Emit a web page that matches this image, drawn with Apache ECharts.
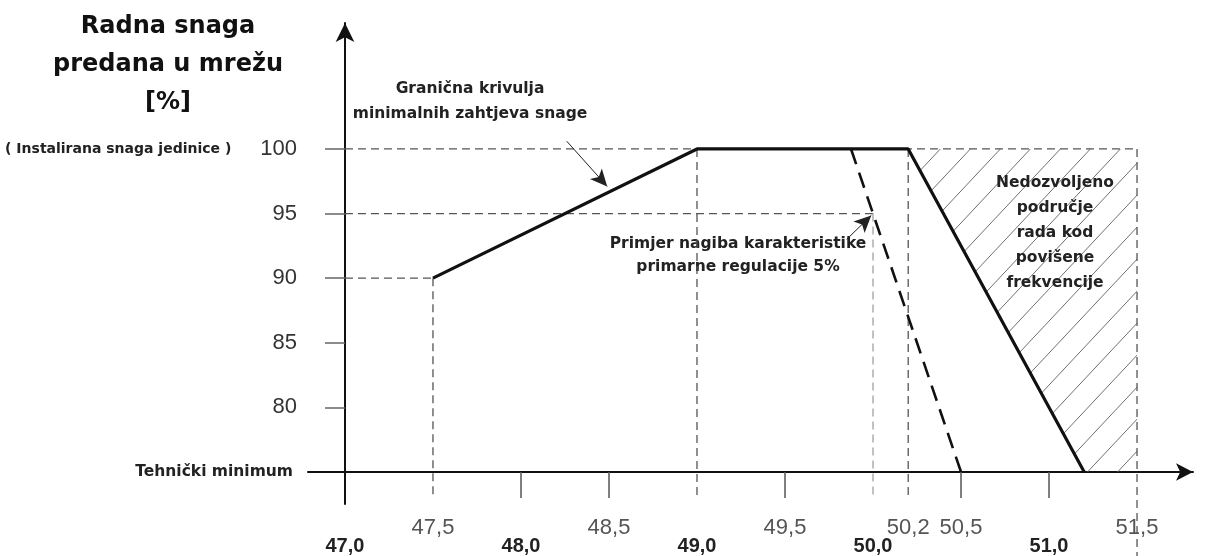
<!DOCTYPE html>
<html><head><meta charset="utf-8">
<script src="https://cdn.jsdelivr.net/npm/echarts@6/dist/echarts.min.js"></script>
<style>html,body{margin:0;padding:0;background:#fff}#c{width:1209px;height:556px}</style>
</head><body><div id="c"></div>
<script>
// ---------- data ----------
const yTickValues = [75, 80, 85, 90, 95, 100];
const yTickLabels = ['Tehnički minimum', '80', '85', '90', '95', '100'];
const yUnitNote = '( Instalirana snaga jedinice )';
const xMajorValues = [47, 48, 49, 50, 51];
const xMajorLabels = ['47,0', '48,0', '49,0', '50,0', '51,0'];
const xMinorValues = [47.5, 48.5, 49.5, 50.2, 50.5, 51.5];
const xMinorLabels = ['47,5', '48,5', '49,5', '50,2', '50,5', '51,5'];
const xTickValues = [48, 48.5, 49.5, 50.5, 51];
// minimum-requirement boundary curve
const minCurveX = [47.5, 49.0, 50.2, 51.2];
const minCurveY = [90, 100, 100, 75];
// example 5% droop characteristic
const droopX = [49.875, 50.0, 50.5];
const droopY = [100, 95, 75];
// forbidden region (over-frequency)
const forbiddenX = [50.2, 51.5, 51.5, 51.2];
const forbiddenY = [100, 100, 75, 75];
// dashed guide lines: horizontal [xFrom, xTo, y], vertical [x, yFrom, yTo]
const guideH = [[47, 51.5, 100], [47, 50.0, 95], [47, 47.5, 90]];
const guideV = [[47.5, 90, 73.1], [49.0, 100, 73.1], [50.0, 95, 73.1], [50.2, 100, 73.1], [51.5, 100, 68.5]];
// annotation arrows [[tailX, tailY], [tipX, tipY]]
const arrowMin = [[48.26, 100.6], [48.49, 97.1]];
const arrowDroop = [[49.85, 93.0], [49.99, 94.85]];
// texts
const titleText = 'Radna snaga\npredana u mrežu\n[%]';
const noteMin = 'Granična krivulja\nminimalnih zahtjeva snage';
const noteDroop = 'Primjer nagiba karakteristike\nprimarne regulacije 5%';
const noteForbidden = 'Nedozvoljeno\npodručje\nrada kod\npovišene\nfrekvencije';

// ---------- chart ----------
const BOLD = '"DejaVu Sans", sans-serif';
const REG = '"Liberation Sans", Arial, sans-serif';

const pc = document.createElement('canvas');
pc.width = 30; pc.height = 32;
const g = pc.getContext('2d');
g.strokeStyle = '#707070'; g.lineWidth = 1;
g.beginPath();
g.moveTo(0, 32); g.lineTo(30, 0);
g.moveTo(-5, 5.33); g.lineTo(5, -5.33);
g.moveTo(25, 37.33); g.lineTo(35, 26.67);
g.stroke();
const hatch = { image: pc, repeat: 'repeat' };

const chart = echarts.init(document.getElementById('c'), null, { renderer: 'canvas' });

const guideStyle = { color: '#555', width: 1.3, type: [8, 5] };
const series = [];
series.push({
  type: 'custom', coordinateSystem: 'cartesian2d', silent: true, z: 1,
  data: [[forbiddenX[0], forbiddenY[0]]],
  renderItem: function (params, api) {
    return {
      type: 'polygon',
      shape: { points: forbiddenX.map((x, i) => api.coord([x, forbiddenY[i]])) },
      style: { fill: hatch, stroke: null }
    };
  }
});
guideH.forEach(h => series.push({
  type: 'line', symbol: 'none', silent: true, z: 2, clip: false,
  data: [[h[0], h[2]], [h[1], h[2]]], lineStyle: guideStyle
}));
guideV.forEach(v => series.push({
  type: 'line', symbol: 'none', silent: true, z: 2, clip: false,
  data: [[v[0], v[1]], [v[0], v[2]]],
  lineStyle: v[0] === 50.0 ? { color: '#999', width: 1.2, type: [8, 5] } : guideStyle
}));
series.push({
  type: 'line', symbol: 'none', silent: true, z: 4,
  data: droopX.map((x, i) => [x, droopY[i]]),
  lineStyle: { color: '#111', width: 2.6, type: [16, 9] }
});
series.push({
  type: 'line', symbol: 'none', silent: true, z: 5,
  data: minCurveX.map((x, i) => [x, minCurveY[i]]),
  lineStyle: { color: '#111', width: 3.2 },
  markLine: {
    silent: true, symbol: ['none', 'arrow'], symbolSize: [12, 17],
    label: { show: false },
    lineStyle: { color: '#222', width: 1, type: 'solid' },
    data: [
      [{ coord: arrowMin[0] }, { coord: arrowMin[1] }],
      [{ coord: arrowDroop[0] }, { coord: arrowDroop[1] }]
    ]
  }
});

chart.setOption({
  animation: false,
  backgroundColor: '#fff',
  grid: { left: 308, right: 16, top: 23, bottom: 51 },
  xAxis: [{
    type: 'value', min: 46.79, max: 51.818, position: 'bottom', offset: -32,
    splitLine: { show: false },
    axisLine: { show: true, onZero: false, symbol: ['none', 'arrow'], symbolSize: [13, 17],
      lineStyle: { color: '#111', width: 2 } },
    axisTick: { show: true, customValues: xTickValues, length: 26, lineStyle: { color: '#555', width: 1.5 } },
    axisLabel: { show: true, customValues: xMajorValues, margin: 64,
      formatter: v => xMajorLabels[xMajorValues.indexOf(v)],
      fontFamily: REG, fontWeight: 'bold', fontSize: 20, color: '#222' }
  }, {
    type: 'value', min: 46.79, max: 51.818, position: 'bottom', offset: -32,
    splitLine: { show: false }, axisLine: { show: false, onZero: false }, axisTick: { show: false },
    axisLabel: { show: true, customValues: xMinorValues, margin: 45,
      formatter: v => xMinorLabels[xMinorValues.indexOf(v)],
      fontFamily: REG, fontSize: 22, color: '#555' }
  }],
  yAxis: {
    type: 'value', min: 72.52, max: 109.75, position: 'left', offset: -37,
    splitLine: { show: false },
    axisLine: { show: true, onZero: false, symbol: ['none', 'arrow'], symbolSize: [14, 19],
      lineStyle: { color: '#111', width: 2 } },
    axisTick: { show: true, customValues: yTickValues.slice(1), length: 20, lineStyle: { color: '#666', width: 1.5 } },
    axisLabel: {
      show: true, customValues: yTickValues, margin: 48,
      formatter: function (v) {
        const t = yTickLabels[yTickValues.indexOf(v)];
        if (v === yTickValues[0]) return '{m|' + t + '}';
        if (v === 100) return '{s|' + yUnitNote + '}{n|' + t + '}';
        return '{n|' + t + '}';
      },
      rich: {
        n: { fontFamily: REG, fontSize: 22, color: '#333' },
        s: { fontFamily: BOLD, fontWeight: 'bold', fontSize: 14, color: '#222', padding: [0, 29, 0, 0] },
        m: { fontFamily: BOLD, fontWeight: 'bold', fontSize: 15.5, color: '#222', padding: [0, 4, 0, 0] }
      }
    }
  },
  graphic: [
    { type: 'text', x: 168, y: 8, silent: true,
      style: { text: titleText, fontFamily: BOLD, fontWeight: 'bold', fontSize: 24, lineHeight: 38,
        align: 'center', verticalAlign: 'top', fill: '#111' } },
    { type: 'text', x: 470, y: 76, silent: true,
      style: { text: noteMin, fontFamily: BOLD, fontWeight: 'bold', fontSize: 15.5, lineHeight: 25,
        align: 'center', verticalAlign: 'top', fill: '#222' } },
    { type: 'text', x: 738, y: 232, silent: true,
      style: { text: noteDroop, fontFamily: BOLD, fontWeight: 'bold', fontSize: 15.5, lineHeight: 23,
        align: 'center', verticalAlign: 'top', fill: '#222' } },
    { type: 'text', x: 1055, y: 171, silent: true, z: 10,
      style: { text: noteForbidden, fontFamily: BOLD, fontWeight: 'bold', fontSize: 15.5, lineHeight: 24.8,
        align: 'center', verticalAlign: 'top', fill: '#222' } }
  ],
  series: series
});
</script>
</body></html>
